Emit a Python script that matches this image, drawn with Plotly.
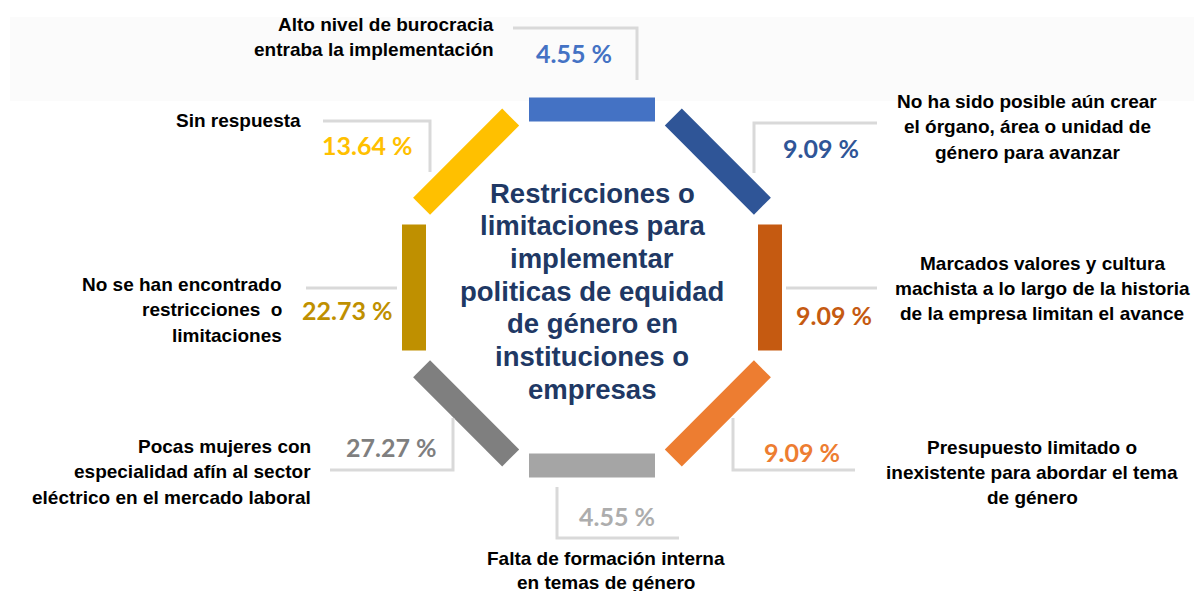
import math
import plotly.graph_objects as go

# ---------------- data ----------------
categories = [
    "Alto nivel de burocracia<br>entraba la implementación",
    "No ha sido posible aún crear<br>el órgano, área o unidad de<br>género para avanzar",
    "Marcados valores y cultura<br>machista a lo largo de la historia<br>de la empresa limitan el avance",
    "Presupuesto limitado o<br>inexistente para abordar el tema<br>de género",
    "Falta de formación interna<br>en temas de género",
    "Pocas mujeres con<br>especialidad afín al sector<br>eléctrico en el mercado laboral",
    "No se han encontrado<br>restricciones  o<br>limitaciones",
    "Sin respuesta",
]
percentages = [4.55, 9.09, 9.09, 9.09, 4.55, 27.27, 22.73, 13.64]
colors = ["#4472C4", "#2F5597", "#C55A11", "#ED7D31", "#A5A5A5", "#7F7F7F", "#BF9000", "#FFC000"]
pct_colors = ["#4472C4", "#2F5597", "#C55A11", "#ED7D31", "#ADADAD", "#7F7F7F", "#BF9000", "#FFC000"]
title_lines = ["Restricciones o", "limitaciones para", "implementar",
               "politicas de equidad", "de género en", "instituciones o", "empresas"]

# ---------------- layout constants ----------------
W, H = 1194, 591
CX, CY = 592, 287.5
R_MID, SEG_LEN, SEG_TH = 178, 126, 24
angles = [-90, -45, 0, 45, 90, 135, 180, -135]

# label placement: (x, first line y, anchor, line spacing)
label_pos = [
    (496, 24, "right", 25),
    (1027, 101, "center", 25.5),
    (1042, 263, "center", 25),
    (1032, 447, "center", 25),
    (606, 558, "center", 24.5),
    (313, 446, "right", 25.5),
    (284, 284, "right", 25.5),
    (303, 120, "right", 25),
]
pct_pos = [(574, 53), (821, 148), (834, 315), (802, 452),
           (617, 516), (391, 447), (347, 310), (367, 145)]
leaders = [
    [(513, 28), (637, 28), (637, 80)],
    [(754, 173), (754, 123), (877, 123)],
    [(786, 288), (877, 288)],
    [(733, 418), (733, 470), (855, 470)],
    [(557, 487), (557, 538), (679, 538)],
    [(330, 470), (453, 470), (453, 418)],
    [(306, 288), (397, 288)],
    [(323, 121), (430, 121), (430, 172)],
]

fig = go.Figure()
fig.add_trace(go.Scatter(x=[0, W], y=[0, H], mode="markers",
                         marker=dict(opacity=0), hoverinfo="skip", showlegend=False))

shapes = []
# faint background band at the top
shapes.append(dict(type="rect", xref="x", yref="y", x0=10, x1=W, y0=17, y1=101,
                   fillcolor="#FBFBFB", line=dict(width=0), layer="below"))

# octagon segments
for ang, col in zip(angles, colors):
    t = math.radians(ang)
    nx, ny = math.cos(t), math.sin(t)
    tx, ty = -ny, nx
    cx, cy = CX + R_MID * nx, CY + R_MID * ny
    pts = []
    for a, b in [(-1, -1), (1, -1), (1, 1), (-1, 1)]:
        pts.append((cx + a * SEG_LEN / 2 * tx + b * SEG_TH / 2 * nx,
                    cy + a * SEG_LEN / 2 * ty + b * SEG_TH / 2 * ny))
    path = "M " + " L ".join(f"{x:.2f},{y:.2f}" for x, y in pts) + " Z"
    shapes.append(dict(type="path", xref="x", yref="y", path=path,
                       fillcolor=col, line=dict(width=0)))

# leader lines
for pts in leaders:
    path = "M " + " L ".join(f"{x},{y}" for x, y in pts)
    shapes.append(dict(type="path", xref="x", yref="y", path=path,
                       line=dict(color="#D9D9D9", width=3)))

annotations = []
label_font = dict(family="Liberation Sans, Arial, sans-serif", size=19, color="#000000")
for text, (x, y0, anch, sp) in zip(categories, label_pos):
    for i, line in enumerate(text.split("<br>")):
        annotations.append(dict(x=x, y=y0 + i * sp, xref="x", yref="y", text=f"<b>{line}</b>",
                                showarrow=False, xanchor=anch, yanchor="middle",
                                font=label_font))

for v, col, (x, y) in zip(percentages, pct_colors, pct_pos):
    annotations.append(dict(x=x, y=y, xref="x", yref="y", text=f"<b>{v:.2f} %</b>",
                            showarrow=False, xanchor="center", yanchor="middle",
                            font=dict(family="Lato, sans-serif", size=25, color=col)))

for i, line in enumerate(title_lines):
    annotations.append(dict(x=CX, y=193 + i * 32.7, xref="x", yref="y", text=f"<b>{line}</b>",
                            showarrow=False, xanchor="center", yanchor="middle",
                            font=dict(family="Liberation Sans, Arial, sans-serif", size=27.5,
                                      color="#203864")))

fig.update_layout(
    width=W, height=H, margin=dict(l=0, r=0, t=0, b=0),
    paper_bgcolor="white", plot_bgcolor="white",
    xaxis=dict(range=[0, W], visible=False, fixedrange=True),
    yaxis=dict(range=[H, 0], visible=False, fixedrange=True),
    shapes=shapes, annotations=annotations, showlegend=False,
)
fig.write_html("out.html", config=dict(displayModeBar=False),
               post_script="document.body.style.margin='0';document.body.style.overflow='hidden';")
